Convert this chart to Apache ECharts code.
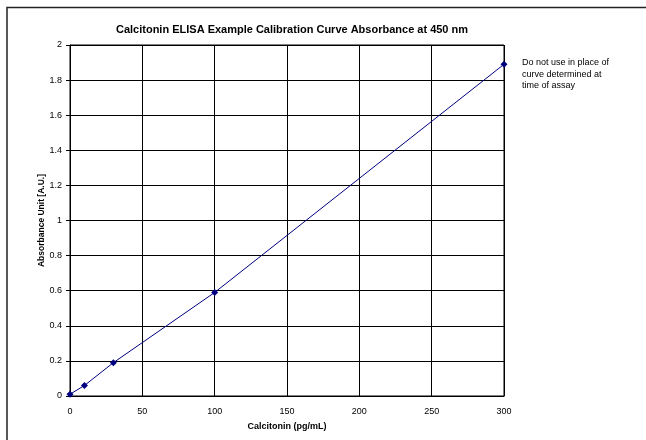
<!DOCTYPE html>
<html>
<head>
<meta charset="utf-8">
<script src="https://cdn.jsdelivr.net/npm/echarts@6/dist/echarts.min.js"></script>
<style>
  html, body { margin: 0; padding: 0; background: #fff; }
  #chart { width: 646px; height: 440px; }
</style>
</head>
<body>
<div id="chart"></div>
<script>
// Calibration standards: concentration (pg/mL) and measured absorbance (A.U.)
const concentrations = [0, 10, 30, 100, 300];
const absorbance = [0.01, 0.06, 0.19, 0.59, 1.89];

const chartTitle = 'Calcitonin ELISA Example Calibration Curve Absorbance at 450 nm';
const xAxisName = 'Calcitonin (pg/mL)';
const yAxisName = 'Absorbance Unit [A.U.]';
const noteLines = ['Do not use in place of', 'curve determined at', 'time of assay'];

const chart = echarts.init(document.getElementById('chart'), null, { renderer: 'canvas' });
const font = 'Arial, "Liberation Sans", sans-serif';

chart.setOption({
  animation: false,
  backgroundColor: '#ffffff',
  title: {
    text: chartTitle,
    left: 287, top: 19, textAlign: 'center',
    textStyle: { fontFamily: font, fontSize: 11, fontWeight: 'bold', color: '#000' }
  },
  graphic: [
    // outer chart-area frame (top and left edges)
    { type: 'polyline', shape: { points: [[7, 440], [7, 7.5], [646, 7.5]] },
      style: { stroke: '#222', lineWidth: 1.5, fill: null } },
    { type: 'text', left: 522, top: 57,
      style: { text: noteLines.join('\n'), fontFamily: font, fontSize: 9, lineHeight: 11.5, fill: '#000' } }
  ],
  grid: { left: 70, right: 142, top: 45, bottom: 44, show: true, borderColor: '#000', borderWidth: 1 },
  xAxis: {
    type: 'value', min: 0, max: 300, interval: 50,
    name: xAxisName, nameLocation: 'middle', nameGap: 26, nameMoveOverlap: false,
    nameTextStyle: { fontFamily: font, fontSize: 9, fontWeight: 'bold', color: '#000' },
    axisLine: { lineStyle: { color: '#000', width: 1 } },
    axisTick: { show: false },
    axisLabel: { fontFamily: font, fontSize: 9, color: '#000', margin: 11 },
    splitLine: { show: true, lineStyle: { color: '#000', width: 1 } }
  },
  yAxis: {
    type: 'value', min: 0, max: 2, interval: 0.2,
    name: yAxisName, nameLocation: 'middle', nameGap: 24, nameMoveOverlap: false,
    nameTextStyle: { fontFamily: font, fontSize: 8.5, fontWeight: 'bold', color: '#000' },
    axisLine: { lineStyle: { color: '#000', width: 1 } },
    axisTick: { show: true, inside: false, length: 4, lineStyle: { color: '#000' } },
    axisLabel: { fontFamily: font, fontSize: 9, color: '#000', margin: 8,
      formatter: v => String(Math.round(v * 10) / 10) },
    splitLine: { show: true, lineStyle: { color: '#000', width: 1 } }
  },
  series: [{
    type: 'line',
    data: concentrations.map((c, i) => [c, absorbance[i]]),
    symbol: 'diamond', symbolSize: 7,
    showAllSymbol: true,
    lineStyle: { color: '#000080', width: 1 },
    itemStyle: { color: '#000080' },
    clip: false
  }]
});
</script>
</body>
</html>
